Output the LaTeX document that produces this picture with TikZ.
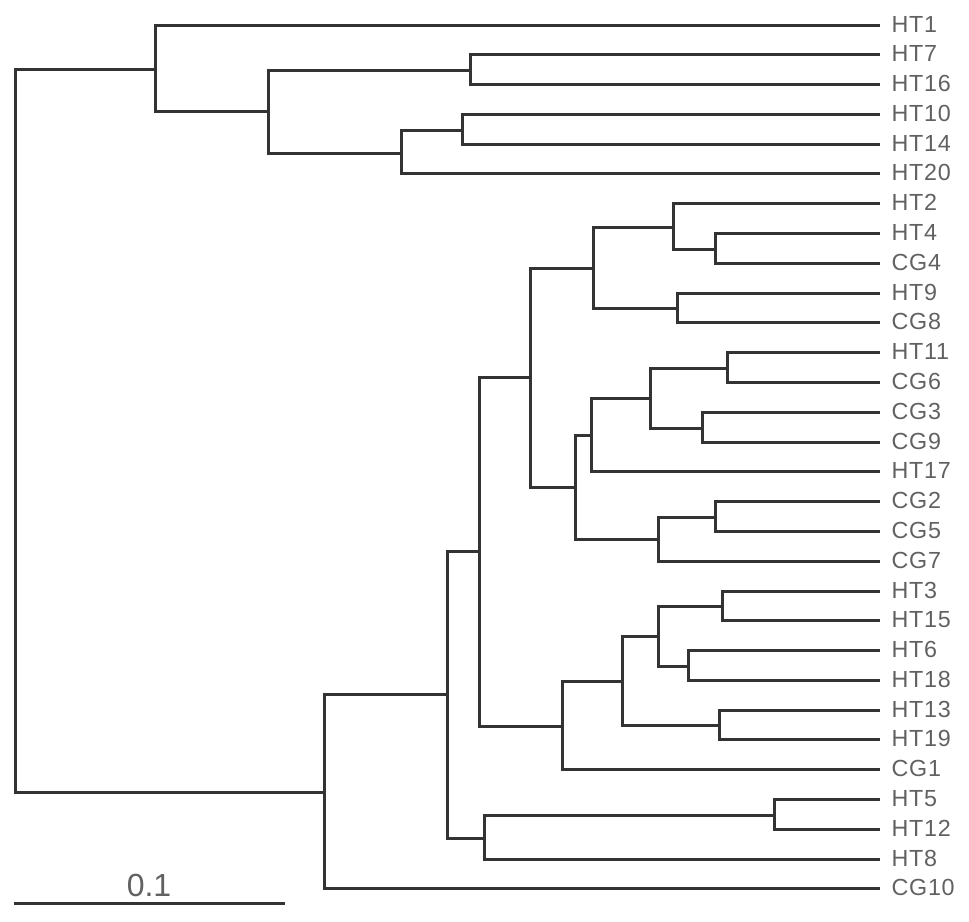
\documentclass[tikz,border=0pt]{standalone}
\usepackage{fontspec}
\setmainfont{Liberation Sans}
\newfontfamily\labfont[LetterSpace=3]{Liberation Sans}
\begin{document}
\begin{tikzpicture}[x=1pt,y=-1pt,
  br/.style={draw=black!80, line width=3pt, line cap=rect},
  lab/.style={anchor=west, inner sep=0pt, text=black!62, font=\labfont\fontsize{23.3}{23.3}\selectfont},
  scl/.style={anchor=base, inner sep=0pt, text=black!62, font=\fontsize{32}{32}\selectfont}]
\useasboundingbox (0,0) rectangle (969,921);
% leaves
\foreach \name [count=\i from 0] in {HT1,HT7,HT16,HT10,HT14,HT20,HT2,HT4,CG4,HT9,CG8,HT11,CG6,CG3,CG9,HT17,CG2,CG5,CG7,HT3,HT15,HT6,HT18,HT13,HT19,CG1,HT5,HT12,HT8,CG10}{
  \coordinate (\name) at (878,{25+29.79*\i});
  \node[lab] (L\name) at (891.5,{24+29.79*\i}) {\name};
}
% internal nodes
\coordinate (root) at (15,430);
\coordinate (A) at (155,69);
\coordinate (B) at (268,111);
\coordinate (n716) at (470,70);
\coordinate (C) at (401,153);
\coordinate (n1014) at (462,130);
\coordinate (K) at (324,792);
\coordinate (J) at (447,694);
\coordinate (I) at (479,551);
\coordinate (E) at (530,377);
\coordinate (D) at (593,268);
\coordinate (n2) at (673,227);
\coordinate (n44) at (715,249);
\coordinate (n98) at (677,308);
\coordinate (H) at (575,487);
\coordinate (G) at (591,435);
\coordinate (F) at (650,398);
\coordinate (n116) at (727,368);
\coordinate (n39) at (702,428);
\coordinate (n257) at (658,539);
\coordinate (n25) at (715,517);
\coordinate (M) at (562,726);
\coordinate (L) at (622,681);
\coordinate (P) at (658,636);
\coordinate (n315) at (722,606);
\coordinate (n618) at (688,666);
\coordinate (n1319) at (719,725);
\coordinate (N) at (484,838);
\coordinate (n512) at (774,815);
% branches
\foreach \p/\c in {root/A,root/K,
  A/HT1,A/B,B/n716,B/C,n716/HT7,n716/HT16,C/n1014,C/HT20,n1014/HT10,n1014/HT14,
  K/J,K/CG10,J/I,J/N,I/E,I/M,E/D,E/H,D/n2,D/n98,n2/HT2,n2/n44,n44/HT4,n44/CG4,
  n98/HT9,n98/CG8,H/G,H/n257,G/F,G/HT17,F/n116,F/n39,n116/HT11,n116/CG6,n39/CG3,n39/CG9,
  n257/n25,n257/CG7,n25/CG2,n25/CG5,
  M/L,M/CG1,L/P,L/n1319,P/n315,P/n618,n315/HT3,n315/HT15,n618/HT6,n618/HT18,
  n1319/HT13,n1319/HT19,N/n512,N/HT8,n512/HT5,n512/HT12}{
  \draw[br] (\p) |- (\c);
}
% scale bar
\coordinate (s0) at (15,903);
\coordinate (s1) at (283,903);
\draw[br] (s0) -- (s1);
\node[scl] (sl) at (149,896.5) {0.1};
\end{tikzpicture}
\end{document}
